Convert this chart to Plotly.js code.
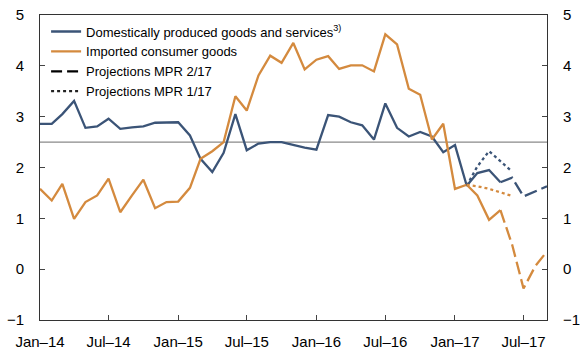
<!DOCTYPE html>
<html>
<head>
<meta charset="utf-8">
<script src="https://cdn.plot.ly/plotly-3.0.1.min.js"></script>
<style>
  html, body { margin: 0; padding: 0; background: #fff; }
  #chart { width: 580px; height: 349px; }
</style>
</head>
<body>
<div id="chart"></div>
<script>
// ---- Categories (months) ----
const histMonths = [
  '2014-01-01','2014-02-01','2014-03-01','2014-04-01','2014-05-01','2014-06-01',
  '2014-07-01','2014-08-01','2014-09-01','2014-10-01','2014-11-01','2014-12-01',
  '2015-01-01','2015-02-01','2015-03-01','2015-04-01','2015-05-01','2015-06-01',
  '2015-07-01','2015-08-01','2015-09-01','2015-10-01','2015-11-01','2015-12-01',
  '2016-01-01','2016-02-01','2016-03-01','2016-04-01','2016-05-01','2016-06-01',
  '2016-07-01','2016-08-01','2016-09-01','2016-10-01','2016-11-01','2016-12-01',
  '2017-01-01','2017-02-01','2017-03-01','2017-04-01','2017-05-01'
];
const projMonths217 = ['2017-05-01','2017-06-01','2017-07-01','2017-08-01','2017-09-01'];
const projMonths117 = ['2017-02-01','2017-03-01','2017-04-01','2017-05-01','2017-06-01'];

// ---- Series values (percent) ----
const domestic = [
  2.86, 2.86, 3.05, 3.31, 2.78, 2.81, 2.96, 2.76, 2.79, 2.81, 2.88, 2.89,
  2.89, 2.63, 2.17, 1.91, 2.29, 3.05, 2.34, 2.47, 2.50, 2.50, 2.44, 2.39,
  2.35, 3.03, 3.00, 2.89, 2.83, 2.55, 3.26, 2.78, 2.61, 2.70, 2.61, 2.30,
  2.44, 1.64, 1.89, 1.95, 1.71
];
const imported = [
  1.58, 1.35, 1.68, 0.99, 1.32, 1.45, 1.78, 1.12, 1.45, 1.76, 1.20, 1.32,
  1.33, 1.60, 2.17, 2.32, 2.50, 3.40, 3.12, 3.81, 4.20, 4.06, 4.45, 3.93,
  4.12, 4.19, 3.94, 4.01, 4.01, 3.89, 4.62, 4.42, 3.55, 3.43, 2.55, 2.86,
  1.58, 1.66, 1.45, 0.97, 1.16
];
const domesticProj217 = [1.71, 1.80, 1.43, 1.53, 1.63];
const importedProj217 = [1.16, 0.48, -0.38, 0.06, 0.35];
const domesticProj117 = [1.64, 2.02, 2.32, 2.12, 1.92];
const importedProj117 = [1.66, 1.63, 1.58, 1.51, 1.44];

const refLevel = 2.5;

// ---- Tick labels ----
const xTickVals = ['2014-01-01','2014-07-01','2015-01-01','2015-07-01',
                   '2016-01-01','2016-07-01','2017-01-01','2017-07-01'];
const xTickText = ['Jan–14','Jul–14','Jan–15','Jul–15','Jan–16','Jul–16','Jan–17','Jul–17'];

const names = [
  'Domestically produced goods and services<sup>3)</sup>',
  'Imported consumer goods',
  'Projections MPR 2/17',
  'Projections MPR 1/17'
];

// ---- Styles ----
const BLUE = '#3b5477';
const ORANGE = '#d48a3e';
const LW = 2.3;
const DASH = '13px,5px';
const DOT = '3px,3px';

const traces = [
  { x: histMonths, y: domestic, name: names[0], type: 'scatter', mode: 'lines',
    line: { color: BLUE, width: LW } },
  { x: histMonths, y: imported, name: names[1], type: 'scatter', mode: 'lines',
    line: { color: ORANGE, width: LW } },
  { x: [null], y: [null], name: names[2], type: 'scatter', mode: 'lines', yaxis: 'y2',
    line: { color: '#000', width: LW, dash: '11px,5px' } },
  { x: [null], y: [null], name: names[3], type: 'scatter', mode: 'lines', yaxis: 'y2',
    line: { color: '#222', width: LW, dash: DOT } },
  { x: projMonths117, y: domesticProj117, showlegend: false, type: 'scatter', mode: 'lines',
    line: { color: BLUE, width: LW, dash: DOT } },
  { x: projMonths117, y: importedProj117, showlegend: false, type: 'scatter', mode: 'lines',
    line: { color: ORANGE, width: LW, dash: DOT } },
  { x: projMonths217, y: domesticProj217, showlegend: false, type: 'scatter', mode: 'lines',
    line: { color: BLUE, width: LW, dash: DASH } },
  { x: projMonths217, y: importedProj217, showlegend: false, type: 'scatter', mode: 'lines',
    line: { color: ORANGE, width: LW, dash: DASH } }
];

const FONT = 'Liberation Sans, Arial, sans-serif';

const yCommon = {
  range: [-1, 5], dtick: 1, tick0: 0, showgrid: false, zeroline: false,
  ticks: 'inside', ticklen: 5, tickcolor: '#444', tickwidth: 1,
  showline: true, linecolor: '#333', linewidth: 1,
  tickfont: { family: FONT, size: 15, color: '#000' },
  ticklabelstandoff: 12, fixedrange: true
};

const layout = {
  width: 580, height: 349,
  margin: { l: 40, r: 33.3, t: 15.3, b: 28.7, pad: 0 },
  paper_bgcolor: '#fff', plot_bgcolor: '#fff',
  font: { family: FONT, color: '#000' },
  showlegend: true,
  legend: {
    x: 0.012, y: 0.995, xanchor: 'left', yanchor: 'top',
    bgcolor: 'rgba(0,0,0,0)', borderwidth: 0,
    font: { family: FONT, size: 13, color: '#000' },
    tracegroupgap: 0
  },
  xaxis: {
    type: 'date', range: ['2014-01-01', '2017-09-01'],
    tickmode: 'array', tickvals: xTickVals, ticktext: xTickText,
    ticks: 'inside', ticklen: 5, tickcolor: '#444', tickwidth: 1,
    showline: true, linecolor: '#333', linewidth: 1, mirror: true,
    showgrid: false, zeroline: false,
    tickfont: { family: FONT, size: 15, color: '#000' },
    ticklabelstandoff: 8, fixedrange: true
  },
  yaxis: Object.assign({}, yCommon, { side: 'left' }),
  yaxis2: Object.assign({}, yCommon, { side: 'right', overlaying: 'y' }),
  shapes: [
    { type: 'line', xref: 'paper', x0: 0, x1: 1, yref: 'y', y0: refLevel, y1: refLevel,
      line: { color: '#8a8a8a', width: 1.2 }, layer: 'below' }
  ]
};

Plotly.newPlot('chart', traces, layout, { displayModeBar: false, staticPlot: true });
</script>
</body>
</html>
